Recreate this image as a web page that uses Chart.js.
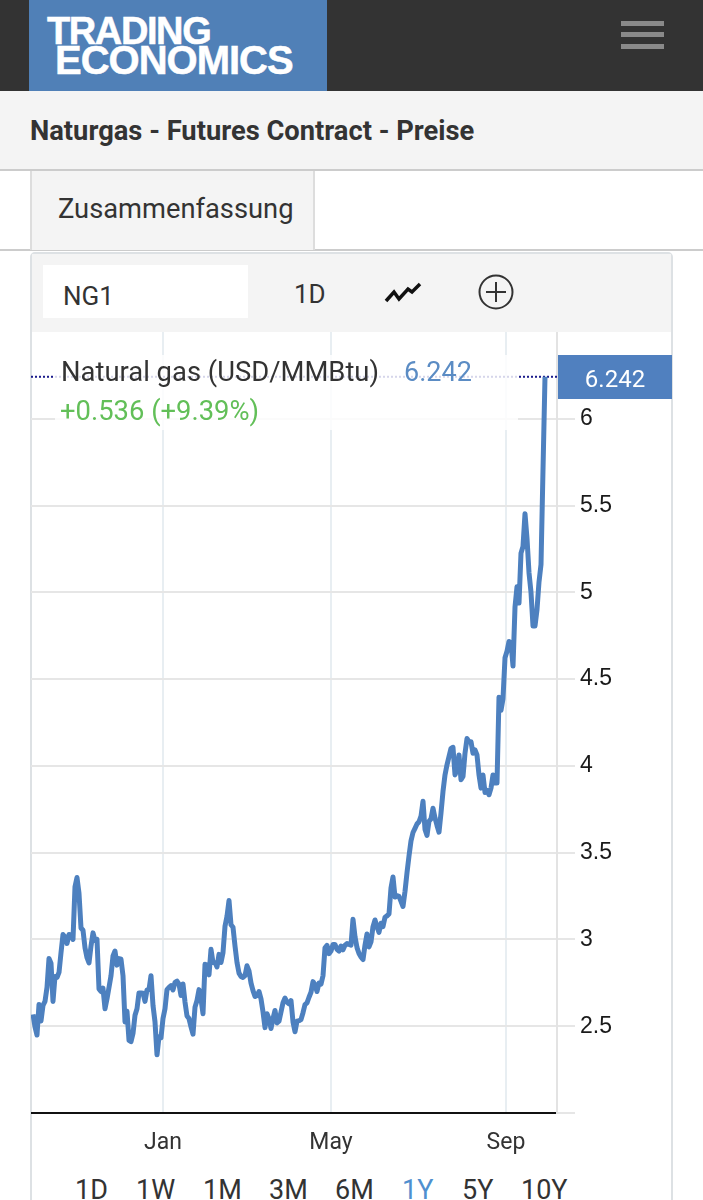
<!DOCTYPE html>
<html>
<head>
<meta charset="utf-8">
<title>Naturgas - Futures Contract - Preise</title>
<script src="https://cdn.jsdelivr.net/npm/chart.js@4"></script>
<style>
html, body { margin: 0; padding: 0; background: #fff; }
body { position: relative; width: 703px; height: 1200px; overflow: hidden; font-family: Roboto, sans-serif; color: #333; }
.box, .txt { position: absolute; box-sizing: border-box; }
.txt { white-space: nowrap; line-height: 1; }
canvas { position: absolute; left: 31px; top: 332px; }
</style>
</head>
<body>
<!-- page header -->
<div class="box" style="left:0;top:0;width:703px;height:91px;background:#333"></div>
<div class="box" style="left:29px;top:0;width:298px;height:93px;background:#5080b7"></div>
<div class="txt" style="left:47px;top:10px;font:bold 38px 'Liberation Sans';color:#fff;letter-spacing:-1.4px;-webkit-text-stroke:0.5px #fff">TRADING</div>
<div class="txt" style="left:55px;top:38px;font:bold 40px 'Liberation Sans';color:#fff;letter-spacing:-1px;-webkit-text-stroke:0.5px #fff">ECONOMICS</div>
<div class="box" style="left:621px;top:21px;width:43px;height:5px;background:#8a8a8a"></div>
<div class="box" style="left:621px;top:32px;width:43px;height:5px;background:#8a8a8a"></div>
<div class="box" style="left:621px;top:44px;width:43px;height:5px;background:#8a8a8a"></div>

<!-- title band and tab -->
<div class="box" style="left:0;top:91px;width:703px;height:80px;background:#f4f4f4;border-bottom:2px solid #ccc"></div>
<div class="txt" style="left:30px;top:118px;font-size:27.3px;font-weight:700;color:#333">Naturgas - Futures Contract - Preise</div>
<div class="box" style="left:0;top:249px;width:703px;height:2px;background:#ccc"></div>
<div class="box" style="left:30px;top:171px;width:285px;height:79px;background:#f4f4f4;border-left:2px solid #ddd;border-right:2px solid #ddd"></div>
<div class="txt" style="left:58px;top:196px;font-size:27.3px;color:#333">Zusammenfassung</div>

<!-- chart panel -->
<div class="box" style="left:30px;top:252px;width:643px;height:960px;border:2px solid #dde1e4;border-radius:5px"></div>
<div class="box" style="left:32px;top:254px;width:639px;height:78px;background:#f4f4f4"></div>
<div class="box" style="left:43px;top:265px;width:205px;height:53px;background:#fff"></div>
<div class="txt" style="left:63px;top:283px;font-size:26px;color:#333">NG1</div>
<div class="txt" style="left:294px;top:281px;font-size:26px;color:#333">1D</div>
<svg class="box" style="left:384px;top:281px" width="38" height="24"><path d="M2 20 L10 11 L15 18 L24 8 L28 11 L36 3" fill="none" stroke="#111" stroke-width="3.5"/></svg>
<svg class="box" style="left:478px;top:274px" width="36" height="36"><circle cx="18" cy="18" r="16.5" fill="none" stroke="#333" stroke-width="2"/><path d="M18 8 V28 M8 18 H28" stroke="#333" stroke-width="2"/></svg>

<canvas id="gasChart" width="641" height="838"></canvas>

<!-- legend sits on the chart and washes out the grid behind it -->
<div class="box" style="left:55px;top:355px;width:463px;height:75px;background:rgba(255,255,255,0.82)"></div>
<div class="txt" style="left:61px;top:359px;font-size:27.4px;color:#333">Natural gas (USD/MMBtu)</div>
<div class="txt" style="left:404px;top:359px;font-size:27px;color:#5b8cc4">6.242</div>
<div class="txt" style="left:60px;top:398px;font-size:27.4px;color:#62bf58">+0.536 (+9.39%)</div>

<!-- last price tag -->
<div class="box" style="left:558px;top:355px;width:114px;height:44px;background:#5080bf"></div>
<div class="txt" style="left:558px;top:367px;width:114px;text-align:center;font-size:24px;color:#fff">6.242</div>

<!-- range buttons -->
<div class="txt" style="left:75px;top:1177px;font-size:27px;color:#333">1D</div>
<div class="txt" style="left:136px;top:1177px;font-size:27px;color:#333">1W</div>
<div class="txt" style="left:203px;top:1177px;font-size:27px;color:#333">1M</div>
<div class="txt" style="left:269px;top:1177px;font-size:27px;color:#333">3M</div>
<div class="txt" style="left:335px;top:1177px;font-size:27px;color:#333">6M</div>
<div class="txt" style="left:402px;top:1177px;font-size:27px;color:#4f8fcf">1Y</div>
<div class="txt" style="left:462px;top:1177px;font-size:27px;color:#333">5Y</div>
<div class="txt" style="left:521px;top:1177px;font-size:27px;color:#333">10Y</div>

<script>
// daily closes, one per trading day
var prices = [
	2.568, 2.496, 2.449, 2.625, 2.53, 2.62, 2.643, 2.724, 2.89, 2.863, 2.643, 2.787, 2.781, 2.81, 2.924, 3.028,
	3.015, 2.977, 3.028, 3.026, 3.0, 3.304, 3.357, 3.266, 3.066, 3.053, 2.952, 2.895, 2.865, 2.962, 3.038, 2.994,
	3.0, 2.715, 2.7, 2.719, 2.601, 2.658, 2.724, 2.791, 2.905, 2.933, 2.852, 2.89, 2.886, 2.791, 2.525, 2.586,
	2.418, 2.411, 2.458, 2.563, 2.601, 2.692, 2.692, 2.69, 2.643, 2.709, 2.711, 2.791, 2.62, 2.525, 2.335, 2.439,
	2.434, 2.544, 2.601, 2.711, 2.724, 2.734, 2.709, 2.753, 2.76, 2.743, 2.677, 2.743, 2.639, 2.559, 2.544, 2.496,
	2.454, 2.61, 2.648, 2.711, 2.658, 2.572, 2.857, 2.852, 2.796, 2.943, 2.867, 2.867, 2.842, 2.914, 2.867, 2.924,
	3.076, 3.133, 3.224, 3.085, 3.07, 2.962, 2.867, 2.806, 2.787, 2.781, 2.791, 2.848, 2.819, 2.749, 2.705, 2.671,
	2.677, 2.7, 2.658, 2.582, 2.492, 2.572, 2.544, 2.487, 2.544, 2.591, 2.519, 2.529, 2.582, 2.635, 2.662, 2.639,
	2.629, 2.648, 2.525, 2.468, 2.529, 2.532, 2.538, 2.578, 2.625, 2.635, 2.667, 2.696, 2.757, 2.738, 2.7, 2.749,
	2.743, 2.791, 2.952, 2.966, 2.918, 2.933, 2.971, 2.971, 2.943, 2.933, 2.962, 2.94, 2.966, 2.977, 2.971,
	2.967, 3.116, 3.016, 2.953, 2.919, 2.899, 2.884, 2.967, 3.031, 2.957, 2.986, 3.074, 3.112, 3.074, 3.041, 3.093,
	3.074, 3.128, 3.136, 3.147, 3.297, 3.36, 3.244, 3.252, 3.248, 3.219, 3.19, 3.277, 3.384, 3.481, 3.568, 3.616,
	3.64, 3.665, 3.678, 3.71, 3.796, 3.634, 3.599, 3.681, 3.695, 3.756, 3.7, 3.657, 3.618, 3.729, 3.853, 3.948,
	4.006, 4.053, 4.101, 4.107, 3.948, 3.977, 4.063, 3.92, 3.939, 4.073, 4.158, 4.139, 4.139, 4.073, 4.092, 4.063,
	3.948, 3.872, 3.948, 3.847, 3.859, 3.834, 3.872, 3.948, 3.901, 3.901, 4.396, 4.32, 4.387, 4.623, 4.66, 4.717,
	4.708, 4.575, 4.915, 5.032, 4.938, 5.226, 5.264, 5.453, 5.311, 5.113, 5.0, 4.806, 4.806, 4.9, 5.06, 5.16,
	5.706, 6.242
];
var lastPrice = 6.242;

var monthLabels = ["Jan", "May", "Sep"];
var monthPositions = [65, 149, 236.5]; // in trading days from the first close
var priceTicks = [2, 2.5, 3, 3.5, 4, 4.5, 5, 5.5, 6];

var points = [];
for (var i = 0; i < prices.length; i++) {
	points.push({x: i, y: prices[i]});
}

var ctx = document.getElementById("gasChart").getContext("2d");

var chart = new Chart(ctx, {
	type: "line",
	data: {
		datasets: [
			{
				label: "Natural gas",
				data: points,
				borderColor: "#4d80bf",
				borderWidth: 5,
				borderJoinStyle: "round",
				pointRadius: 0,
				tension: 0,
				order: 1
			},
			{
				label: "Last",
				data: [{x: -1, y: lastPrice}, {x: 262, y: lastPrice}],
				borderColor: "#1c1c8c",
				borderWidth: 2,
				borderDash: [2, 2],
				pointRadius: 0,
				order: 2
			}
		]
	},
	options: {
		responsive: false,
		animation: false,
		layout: {padding: 0},
		plugins: {legend: {display: false}, tooltip: {enabled: false}},
		scales: {
			x: {
				type: "linear",
				min: -1,
				max: 262,
				afterBuildTicks: function(scale) {
					scale.ticks = monthPositions.map(function(p) { return {value: p}; });
				},
				afterFit: function(scale) {
					scale.height = 57;
					scale.paddingLeft = 0;
					scale.paddingRight = 0;
				},
				ticks: {
					autoSkip: false,
					maxRotation: 0,
					padding: 16,
					color: "#333",
					font: {family: "Roboto", size: 23},
					callback: function(value) { return monthLabels[monthPositions.indexOf(value)]; }
				},
				grid: {color: "#e8eef2", lineWidth: 2, drawTicks: false},
				border: {color: "#111", width: 2}
			},
			y: {
				position: "right",
				min: 2,
				max: 6.5,
				afterBuildTicks: function(scale) {
					scale.ticks = priceTicks.map(function(p) { return {value: p}; });
				},
				afterFit: function(scale) {
					scale.width = 115;
					scale.paddingTop = 0;
					scale.paddingBottom = 0;
				},
				ticks: {
					padding: 5,
					color: "#1a1a1a",
					font: {family: "Liberation Sans", size: 23},
					callback: function(value) { return value === 2 ? "" : String(value); }
				},
				grid: {color: "#e6e6e6", lineWidth: 2, tickLength: 18},
				border: {color: "#e3e3e3", width: 2}
			}
		}
	}
});
</script>
</body>
</html>
